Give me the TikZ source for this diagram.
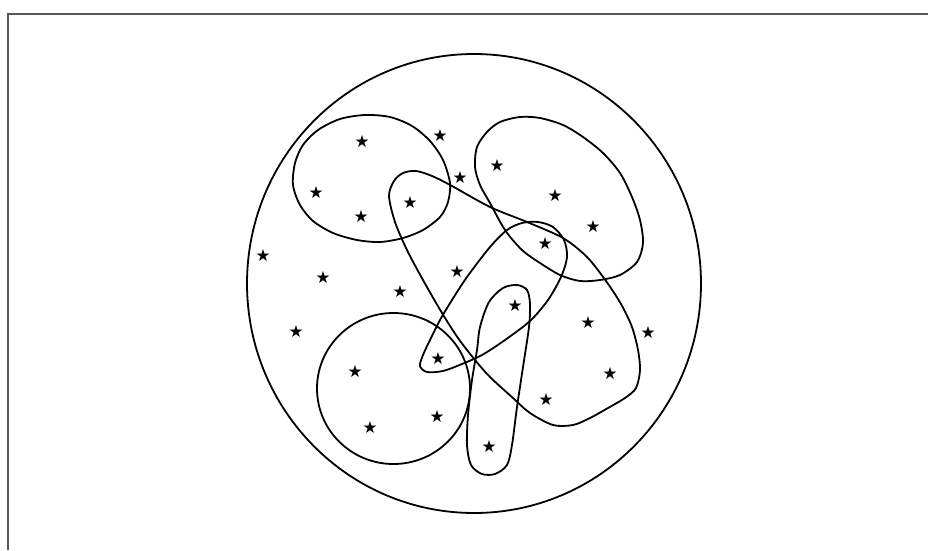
\documentclass[tikz,border=0pt]{standalone}
\usepackage{fontspec}
\newfontfamily\starfont{DejaVu Sans}
\begin{document}
\begin{tikzpicture}[x=0.75pt,y=-0.75pt,
  curve/.style={line width=1.35pt,black},
  frameline/.style={line width=0.9pt,black!65},
  pt/.style={inner sep=0pt,font=\starfont\fontsize{12.5}{12.5}\selectfont}]
\useasboundingbox (0,0) rectangle (928,550);
% frame
\draw[frameline] (8,550) -- (8,14) -- (928,14);
% big circle
\draw[curve] (474,283.5) ellipse [x radius=227, y radius=229.5];
% small circle
\draw[curve] (393.5,388.5) ellipse [x radius=76.5, y radius=75.5];
% top-left loop
\draw[curve] plot[smooth cycle] coordinates {(293,185) (295,163) (303,145) (318,130) (340,119) (365,115) (390,117) (412,126) (430,141) (443,160) (450,183) (448,202) (440,217) (423,230) (403,238) (380,242) (357,240) (333,233) (313,221) (300,205)};
% top-right loop
\draw[curve] plot[smooth cycle] coordinates {(475,167) (477,147) (487,132) (500,122) (520,117) (540,118) (563,125) (583,137) (603,153) (620,173) (632,197) (640,220) (643,243) (637,262) (620,275) (600,280) (580,281) (560,275) (540,263) (522,250) (505,230) (490,203) (480,185)};
% long loop
\draw[curve] plot[smooth cycle] coordinates {(389,196) (394,181) (403,173) (416,171) (432,176) (452,186) (490,207) (527,222) (563,238) (587,257) (606,281) (621,304) (632,327) (638,350) (640,370) (636,388) (625,398) (608,408) (590,418) (573,425) (553,425) (530,413) (513,398) (490,377) (475,360) (458,338) (442,313) (423,280) (407,250) (395,222)};
% pointed middle loop
\draw[curve] plot[smooth cycle] coordinates {(420,366) (423,355) (430,340) (440,320) (452,300) (467,277) (490,247) (507,230) (522,223) (538,222) (553,227) (564,240) (567,257) (561,277) (548,300) (530,321) (505,340) (482,355) (462,364) (443,371) (427,372)};
% thin loop
\draw[curve] plot[smooth cycle] coordinates {(477,350) (480,327) (489,302) (503,288) (517,285) (527,290) (530,304) (529,327) (523,367) (517,407) (512,445) (507,465) (495,474) (482,474) (471,465) (467,445) (468,415) (472,380)};
% stars
\node[pt] (s1) at (362,142) {★};
\node[pt] (s2) at (440,136) {★};
\node[pt] (s3) at (460,178) {★};
\node[pt] (s4) at (316,193) {★};
\node[pt] (s5) at (361,217) {★};
\node[pt] (s6) at (410,203) {★};
\node[pt] (s7) at (497,166) {★};
\node[pt] (s8) at (555,196) {★};
\node[pt] (s9) at (593,227) {★};
\node[pt] (s10) at (545,244) {★};
\node[pt] (s11) at (263,256) {★};
\node[pt] (s12) at (323,278) {★};
\node[pt] (s13) at (457,272) {★};
\node[pt] (s14) at (400,292) {★};
\node[pt] (s15) at (515,306) {★};
\node[pt] (s16) at (296,332) {★};
\node[pt] (s17) at (588,323) {★};
\node[pt] (s18) at (648,333) {★};
\node[pt] (s19) at (438,359) {★};
\node[pt] (s20) at (355,372) {★};
\node[pt] (s21) at (610,374) {★};
\node[pt] (s22) at (546,400) {★};
\node[pt] (s23) at (437,417) {★};
\node[pt] (s24) at (370,428) {★};
\node[pt] (s25) at (489,447) {★};
\end{tikzpicture}
\end{document}
